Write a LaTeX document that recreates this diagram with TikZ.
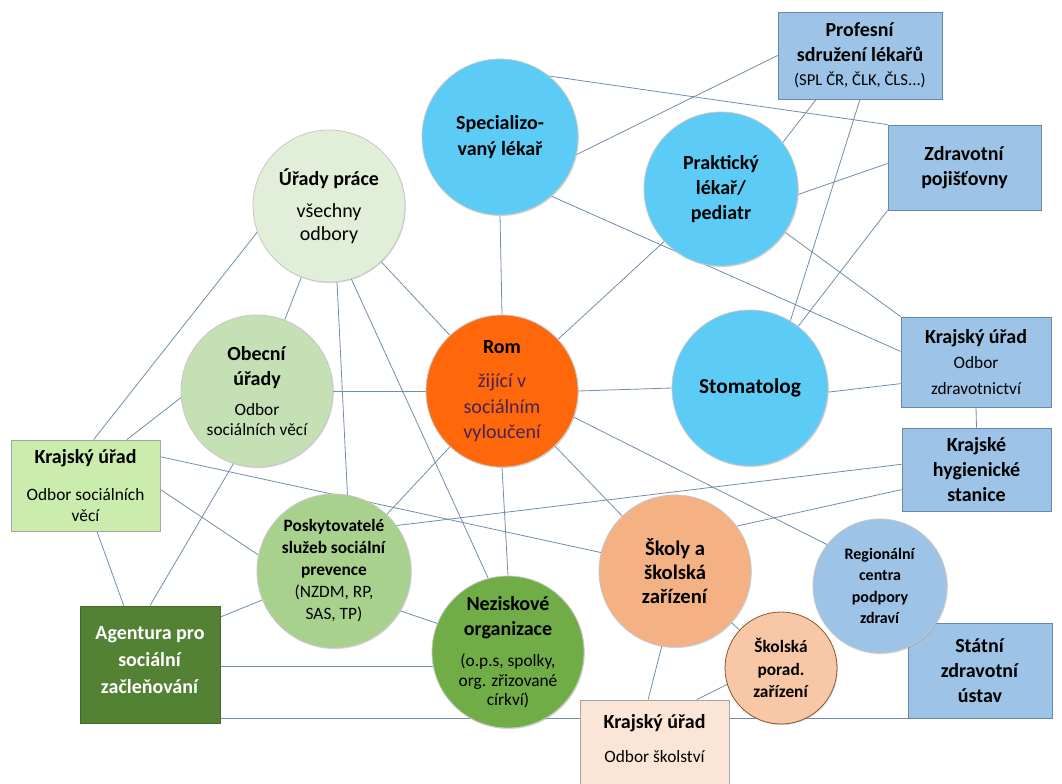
\documentclass[tikz,border=0pt]{standalone}
\usepackage{fontspec}
\setmainfont{Carlito}
\usetikzlibrary{backgrounds,shadows}
\definecolor{nebe}{RGB}{92,204,246}
\definecolor{modra}{RGB}{157,195,230}
\definecolor{modrahrana}{RGB}{105,135,170}
\definecolor{zelena1}{RGB}{226,239,216}
\definecolor{zelena2}{RGB}{197,224,180}
\definecolor{zelena3}{RGB}{169,209,142}
\definecolor{zelena4}{RGB}{112,173,71}
\definecolor{zelena5}{RGB}{84,130,53}
\definecolor{kuzelena}{RGB}{202,236,172}
\definecolor{oranz}{RGB}{255,104,10}
\definecolor{romtext}{RGB}{72,34,84}
\definecolor{losos}{RGB}{244,177,131}
\definecolor{losos2}{RGB}{248,200,166}
\definecolor{telova}{RGB}{251,229,214}
\definecolor{spojbarva}{RGB}{112,142,172}
\newcommand{\velky}{\fontsize{15}{19}\selectfont}
\newcommand{\maly}{\fontsize{13}{15.5}\selectfont}
\newcommand{\drobny}{\fontsize{12.5}{14}\selectfont}

\begin{document}
\begin{tikzpicture}[x=0.75pt,y=0.75pt,yscale=-1,xscale=1,
  kruh/.style={circle,draw=black!22,line width=0.6pt,inner sep=0pt,align=center,font=\velky,
    drop shadow={shadow xshift=0.6pt,shadow yshift=-0.8pt,opacity=0.3}},
  ramec/.style={rectangle,draw=modrahrana,line width=0.6pt,inner sep=0pt,align=center,font=\velky},
  spoj/.style={draw=spojbarva,line width=0.6pt}]
\useasboundingbox (0,0) rectangle (1062,783);

%Shape: Rectangle
\node[ramec,fill=modra,minimum width=123pt,minimum height=65.25pt] (prof) at (860,55.5)
  {\textbf{Profesní}\\\textbf{sdružení lékařů}\\[-1pt]{\drobny (SPL ČR, ČLK, ČLS...)}};
%Shape: Rectangle
\node[ramec,fill=modra,minimum width=114.75pt,minimum height=63.75pt] (pojis) at (964.5,167.5)
  {\textbf{Zdravotní}\\\textbf{pojišťovny}};
%Shape: Rectangle
\node[ramec,fill=modra,minimum width=112.5pt,minimum height=67.5pt] (kuzdr) at (976,362)
  {\textbf{Krajský úřad}\\{\maly Odbor}\\{\maly zdravotnictví}};
%Shape: Rectangle
\node[ramec,fill=modra,minimum width=111.75pt,minimum height=62.25pt] (khs) at (976.5,469.5)
  {\textbf{Krajské}\\\textbf{hygienické}\\\textbf{stanice}};
%Shape: Rectangle
\node[ramec,fill=modra,minimum width=108pt,minimum height=71.25pt] (szu) at (980,670.5)
  {\textbf{Státní}\\\textbf{zdravotní}\\\textbf{ústav}};
%Shape: Rectangle
\node[ramec,draw=black!35,fill=telova,minimum width=111.75pt,minimum height=67.5pt] (kusk) at (654.5,745)
  {\textbf{Krajský úřad}\\[7pt]{\maly Odbor školství}\\[-9pt]};
%Shape: Rectangle
\node[ramec,draw=black!35,fill=kuzelena,minimum width=111.75pt,minimum height=68.25pt] (kusoc) at (85.5,485.5)
  {\textbf{Krajský úřad}\\[9pt]{\maly Odbor sociálních}\\[-3pt]{\maly věcí}};
%Shape: Rectangle
\node[ramec,draw=zelena5!80!black,fill=zelena5,text=white,minimum width=105pt,minimum height=87.75pt] (agent) at (150,664.5)
  {\textbf{Agentura pro}\\[1pt]\textbf{sociální}\\[1pt]\textbf{začleňování}\\[-12pt]};

%Shape: Circle
\node[kruh,fill=nebe,minimum size=117pt] (spec) at (500,137)
  {\textbf{Specializo-}\\\textbf{vaný lékař}};
%Shape: Circle
\node[kruh,fill=nebe,minimum size=115.5pt] (prak) at (721,189)
  {\textbf{Praktický}\\\textbf{lékař/}\\\textbf{pediatr}};
%Shape: Circle
\node[kruh,fill=zelena1,minimum size=114pt] (urady) at (329,206)
  {\textbf{Úřady práce}\\[5pt]všechny\\[-2pt]odbory};
%Shape: Circle
\node[kruh,fill=zelena2,minimum size=114pt] (obec) at (257,391)
  {\textbf{Obecní}\\\textbf{úřady}\\[3pt]{\maly Odbor}\\[-4pt]{\maly sociálních věcí}};
%Shape: Circle
\node[kruh,fill=oranz,minimum size=114pt] (rom) at (502,391)
  {\textbf{Rom}\\[7pt]\textcolor{romtext}{žijící v}\\\textcolor{romtext}{sociálním}\\\textcolor{romtext}{vyloučení}};
%Shape: Circle
\node[kruh,fill=nebe,minimum size=117pt,font=\fontsize{16}{19}\selectfont] (stoma) at (750,388)
  {\textbf{Stomatolog}};
%Shape: Circle
\node[kruh,fill=zelena3,minimum size=115.5pt,font=\fontsize{13}{16.5}\selectfont] (posk) at (334,571)
  {\textbf{Poskytovatelé}\\\textbf{služeb sociální}\\\textbf{prevence}\\(NZDM, RP,\\SAS, TP)};
%Shape: Circle
\node[kruh,fill=zelena4,minimum size=114pt] (nezisk) at (508,652)
  {\textbf{Neziskové}\\\textbf{organizace}\\[4pt]{\maly (o.p.s, spolky,}\\[-4pt]{\maly org. zřizované}\\[-5pt]{\maly církví)}};
%Shape: Circle
\node[kruh,fill=losos,minimum size=114pt,font=\fontsize{15.5}{18}\selectfont] (skoly) at (675,571)
  {\textbf{Školy a}\\\textbf{školská}\\\textbf{zařízení}};
%Shape: Circle
\node[kruh,fill=modra,minimum size=100.5pt,font=\fontsize{12}{16}\selectfont] (reg) at (880,586)
  {\textbf{Regionální}\\\textbf{centra}\\\textbf{podpory}\\\textbf{zdraví}};
%Shape: Circle
\node[kruh,draw=brown!70!black,fill=losos2,minimum size=84pt,font=\fontsize{13}{17}\selectfont] (porad) at (781,668)
  {\textbf{Školská}\\\textbf{porad.}\\\textbf{zařízení}};

%Straight Lines
\begin{scope}[on background layer]
\draw[spoj] (urady) -- (rom);
\draw[spoj] (urady) -- (obec);
\draw[spoj] (urady.276) -- (posk.80);
\draw[spoj] (urady.287) -- (nezisk.105);
\draw[spoj] (urady.200) -- (kusoc.80);
\draw[spoj] (spec.south) -- (rom.north);
\draw[spoj] (spec.347) -- (prof.west);
\draw[spoj] (spec.51) -- (pojis.north west);
\draw[spoj] (spec.311) -- (kuzdr.172);
\draw[spoj] (prak.37) -- (prof.225);
\draw[spoj] (prak.356) -- (pojis.177);
\draw[spoj] (prak) -- (rom);
\draw[spoj] (prak.326) -- (kuzdr.north west);
\draw[spoj] (prof.south) -- (stoma.59);
\draw[spoj] (pojis.south west) -- (stoma.52);
\draw[spoj] (stoma.357) -- (kuzdr.196);
\draw[spoj] (kuzdr.south) -- (khs.north);
\draw[spoj] (rom.east) -- (stoma.west);
\draw[spoj] (rom.west) -- (obec.east);
\draw[spoj] (rom.south) -- (nezisk.north);
\draw[spoj] (rom) -- (posk);
\draw[spoj] (rom) -- (skoly);
\draw[spoj] (rom.340) -- (reg.142);
\draw[spoj] (kusoc.21) -- (skoly.166);
\draw[spoj] (posk.36) -- (khs.176);
\draw[spoj] (skoly.36) -- (khs.195);
\draw[spoj] (kusoc.357) -- (posk.168);
\draw[spoj] (obec.252) -- (agent.north);
\draw[spoj] (obec.185) -- (kusoc.48);
\draw[spoj] (kusoc.284) -- (agent.114);
\draw[spoj] (agent.34) -- (posk.202);
\draw[spoj] (agent.east |- nezisk.191) -- (nezisk.191);
\draw[spoj] (agent.east |- szu.south west) -- (szu.south west);
\draw[spoj] (posk.329) -- (nezisk.158);
\draw[spoj] (skoly.260) -- (kusk.98);
\draw[spoj] (porad.197) -- (kusk.47);
\draw[spoj] (skoly) -- (porad);
\end{scope}

\end{tikzpicture}
\end{document}
